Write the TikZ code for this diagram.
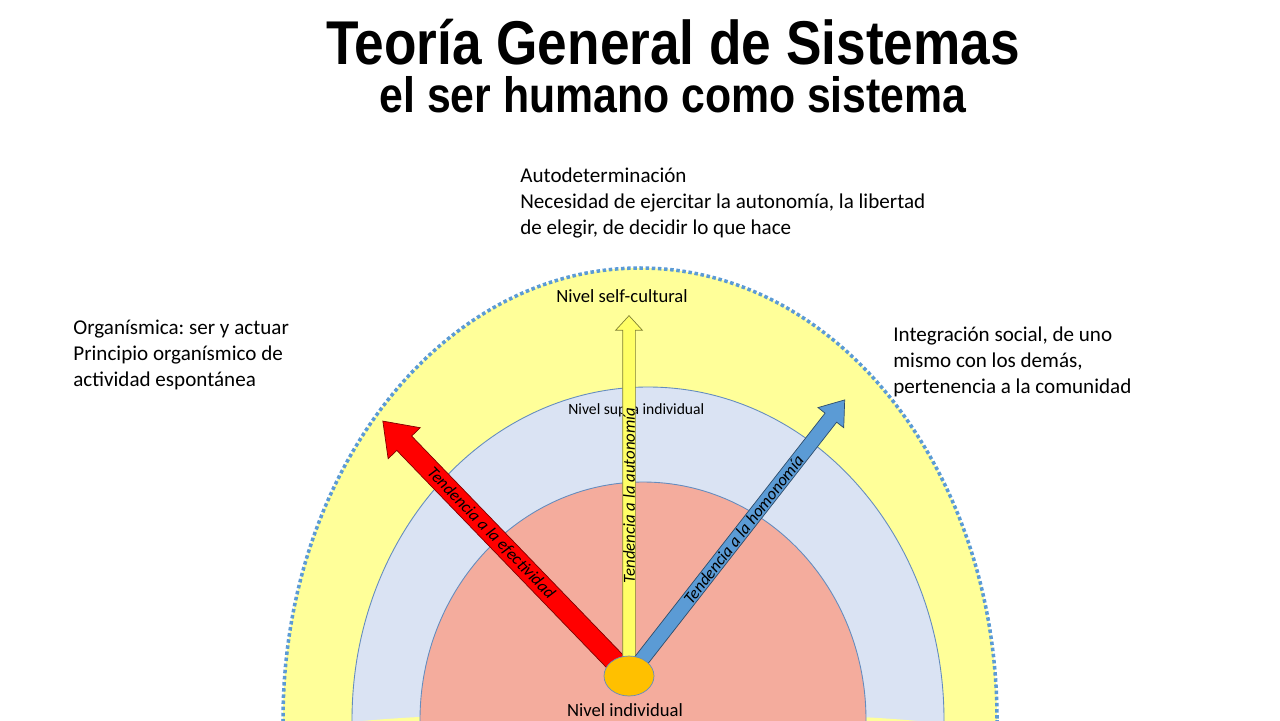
\documentclass[tikz,border=0pt]{standalone}
\usepackage{fontspec}
\setmainfont{Carlito}
\newfontfamily\headfont{Liberation Sans}
\usetikzlibrary{shapes.geometric}
\usetikzlibrary{shapes.arrows}
\usetikzlibrary{calc}
\frenchspacing

\definecolor{selfyellow}{RGB}{255,255,153}
\definecolor{supra}{RGB}{218,227,243}
\definecolor{indiv}{RGB}{244,172,157}
\definecolor{ringline}{RGB}{100,140,190}
\definecolor{dotblue}{RGB}{91,155,213}
\definecolor{effred}{RGB}{255,0,0}
\definecolor{autyellow}{RGB}{255,255,102}
\definecolor{homblue}{RGB}{91,155,213}
\definecolor{coreorange}{RGB}{255,192,0}

\begin{document}
\begin{tikzpicture}[x=0.02cm, y=-0.02cm,
  ring/.style={draw=ringline, line width=0.5pt},
  level label/.style={inner sep=0pt, font=\fontsize{10.6}{12}\selectfont},
  arrow text/.style={inner sep=0pt, font=\fontsize{9.6}{11}\selectfont\itshape},
  tendency/.style={single arrow, fill=#1, draw=#1!50!black, line width=0.4pt,
    anchor=tail, inner xsep=0pt},
  need/.style={inner sep=0pt, align=left, anchor=base west,
    font=\fontsize{12}{14.7}\selectfont},
  heading/.style={inner sep=0pt, anchor=base, xscale=0.86,
    font=\headfont\bfseries\fontsize{#1}{#1}\selectfont}]
\useasboundingbox (0,0) rectangle (1280,720);
\fill[white] (0,0) rectangle (1280,720);

% levels
\begin{scope}
  \clip (0,0) rectangle (1280,720);
  \fill[selfyellow] (640,720) ellipse [x radius=357, y radius=452];
  \draw[ring, fill=supra] (648,720) ellipse [x radius=296, y radius=333];
  \fill[selfyellow] (640,730) ellipse [x radius=320, y radius=18];
  \draw[ring, fill=indiv] (643,720) ellipse [x radius=223, y radius=238];
  \draw[dotblue, line width=2pt, dash pattern=on 2pt off 1.5pt]
    (640,720) ellipse [x radius=357, y radius=452];
\end{scope}

\node[level label] (selfc) at (622,296) {Nivel self-cultural};
\node[level label, anchor=west, font=\fontsize{8.9}{10}\selectfont] (suprl) at (568,410) {Nivel supra individual};
\node[level label] (indivl) at (625,710) {Nivel individual};

% tendencies
\coordinate (hub) at (629,676);
\foreach \name/\ang/\len/\shaft/\head/\tip/\pos/\col/\lbl [evaluate={%
    \textang=\ang>90 ? \ang-180 : \ang;}] in {%
    efect/134/354/20/44/72/0.56/effred/{Tendencia a la efectividad},
    auton/90/360/12/26/85/0.5/autyellow/{Tendencia a la autonomía},
    homon/52/350/14/32/72/0.53/homblue/{Tendencia a la homonomía}}
  {
  \node[tendency=\col, rotate=\ang, minimum height=\len*0.02cm,
    inner ysep=\shaft*0.01cm, single arrow head extend=(\head-\shaft)*0.01cm,
    single arrow tip angle=\tip] (\name) at (hub) {};
  \node[arrow text, rotate=\textang] (\name-text)
    at ($(\name.tail)!\pos!(\name.tip)$) {\lbl};
  }
\node[ellipse, draw=ringline, fill=coreorange, minimum width=1cm,
  minimum height=0.8cm] (core) at (hub) {};

% needs
\node[need] (autodet) at (520,234) {Autodeterminación\\Necesidad de ejercitar la autonomía, la libertad\\de elegir, de decidir lo que hace};
\node[need] (organ) at (73,386) {Organísmica: ser y actuar\\Principio organísmico de\\actividad espontánea};
\node[need] (integr) at (893,393) {Integración social, de uno\\mismo con los demás,\\pertenencia a la comunidad};

\node[heading=35.2] (title) at (673,64) {Teoría General de Sistemas};
\node[heading=28.3] (subtitle) at (673,112) {el ser humano como sistema};
\end{tikzpicture}
\end{document}
